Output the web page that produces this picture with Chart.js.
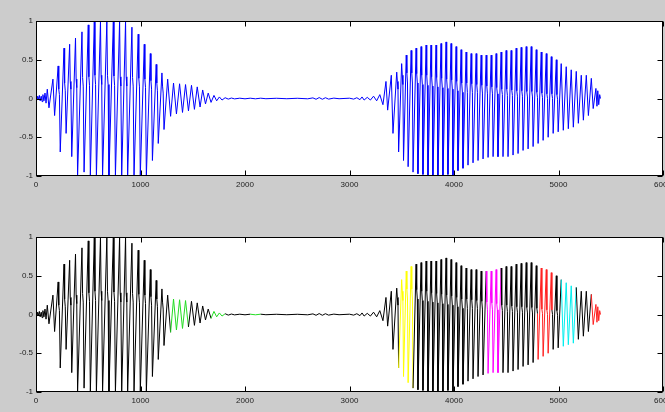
<!DOCTYPE html>
<html>
<head>
<meta charset="utf-8">
<script src="https://cdn.jsdelivr.net/npm/chart.js@4.4.0/dist/chart.umd.min.js"></script>
<style>
  body { margin: 0; background: #cccccc; width: 665px; height: 412px; overflow: hidden; position: relative; }
  canvas { position: absolute; left: 0; }
  #top { top: 0; }
  #bottom { top: 216px; }
</style>
</head>
<body>
<canvas id="top" width="665" height="196"></canvas>
<canvas id="bottom" width="665" height="196"></canvas>
<script>
// waveform: sample index and amplitude of each turning point
var introX = [0, 8, 16, 24, 32, 40, 50, 58, 66, 76, 86, 96];
var introY = [0.01, -0.02, 0.03, -0.01, 0.04, -0.03, 0.03, -0.04, 0.05, -0.03, 0.07, -0.06];

var burst1X = [
  108, 124, 162, 178,
  212, 218, 224, 232, 268, 274, 280, 288, 322, 328, 334, 342, 378, 384, 390, 398,
  440, 446, 452, 460, 500, 506, 512, 520, 558, 564, 570, 578, 617, 623, 629, 637,
  678, 684, 690, 698, 740, 746, 752, 760, 800, 806, 812, 820, 857, 863, 869, 877,
  918, 924, 930, 938, 978, 984, 990, 998, 1036, 1042, 1048, 1056, 1094, 1100, 1106, 1114,
  1150, 1156, 1162, 1170, 1205, 1211, 1217, 1225,
  1260, 1288, 1316, 1344, 1374, 1402, 1431, 1459, 1488, 1516,
  1543, 1570, 1595, 1622, 1648, 1675, 1703, 1729, 1755, 1780
];
var burst1Y = [
  0.12, -0.12, 0.25, -0.22,
  0.42, 0.12, 0.05, -0.69, 0.65, 0.2, 0.1, -0.45, 0.7, 0.22, 0.12, -0.75, 0.78, 0.25, 0.14, -1,
  0.86, 0.27, 0.16, -0.95, 0.95, 0.28, 0.17, -1, 1, 0.3, 0.18, -1, 1, 0.3, 0.18, -1,
  1, 0.3, 0.18, -1, 1, 0.29, 0.17, -1, 1, 0.28, 0.16, -1, 1, 0.28, 0.16, -1,
  0.92, 0.27, 0.16, -1, 0.83, 0.26, 0.15, -1, 0.7, 0.25, 0.14, -1, 0.58, 0.23, 0.12, -0.8,
  0.44, 0.2, 0.1, -0.58, 0.33, 0.16, 0.07, -0.4,
  0.25, -0.23, 0.2, -0.2, 0.19, -0.18, 0.18, -0.16, 0.17, -0.14,
  0.15, -0.11, 0.11, -0.07, 0.07, -0.05, 0.04, -0.03, 0.02, -0.02
];

var quietX = [
  1810, 1840, 1870, 1900, 1950, 2000, 2050, 2100, 2150, 2200, 2300, 2400, 2500, 2600,
  2650, 2680, 2710, 2740, 2770, 2800, 2850, 2900, 3000, 3040, 3070, 3100, 3120, 3140,
  3170, 3200, 3230, 3260, 3290, 3320
];
var quietY = [
  0.01, -0.008, 0.006, -0.005, 0.004, -0.004, 0.004, -0.004, 0.004, -0.003, 0.003, -0.003, 0.003, -0.004,
  0.008, -0.01, 0.012, -0.01, 0.01, -0.008, 0.005, -0.003, 0.004, -0.008, 0.01, -0.015, 0.02, -0.02,
  0.015, -0.02, 0.03, -0.03, 0.05, -0.08
];

var burst2X = [
  3349, 3365, 3400, 3416,
  3452, 3458, 3464, 3470, 3499, 3505, 3511, 3517, 3543, 3549, 3555, 3561, 3590, 3596, 3602, 3608,
  3637, 3643, 3649, 3655, 3685, 3691, 3697, 3703, 3733, 3739, 3745, 3751, 3780, 3786, 3792, 3798,
  3828, 3834, 3840, 3846, 3876, 3882, 3888, 3894, 3924, 3930, 3936, 3942, 3972, 3978, 3984, 3990,
  4020, 4026, 4032, 4038, 4068, 4074, 4080, 4086, 4116, 4122, 4128, 4134, 4164, 4170, 4176, 4182,
  4212, 4218, 4224, 4230, 4260, 4266, 4272, 4278, 4308, 4314, 4320, 4326, 4356, 4362, 4368, 4374,
  4403, 4409, 4415, 4421, 4451, 4457, 4463, 4469, 4499, 4505, 4511, 4517, 4547, 4553, 4559, 4565,
  4595, 4601, 4607, 4613, 4643, 4649, 4655, 4661, 4691, 4697, 4703, 4709, 4739, 4745, 4751, 4757,
  4787, 4793, 4799, 4805, 4835, 4841, 4847, 4853, 4883, 4889, 4895, 4901, 4931, 4937, 4943, 4949,
  4979, 4985, 4991, 4997,
  5026, 5046, 5074, 5094, 5122, 5142, 5170, 5190, 5218, 5238, 5266, 5286, 5314, 5332, 5358, 5368,
  5376, 5385, 5394, 5402
];
var burst2Y = [
  0.22, -0.15, 0.3, -0.45,
  0.34, 0.22, 0.12, -0.69, 0.45, 0.3, 0.18, -0.8, 0.56, 0.33, 0.2, -0.88, 0.62, 0.33, 0.2, -0.95,
  0.65, 0.32, 0.2, -0.97, 0.67, 0.3, 0.18, -0.98, 0.69, 0.3, 0.17, -1, 0.69, 0.28, 0.16, -1,
  0.69, 0.27, 0.15, -0.99, 0.71, 0.26, 0.14, -1, 0.73, 0.25, 0.13, -0.98, 0.71, 0.24, 0.12, -1,
  0.67, 0.22, 0.1, -0.93, 0.63, 0.2, 0.08, -0.9, 0.6, 0.2, 0.08, -0.86, 0.58, 0.19, 0.08, -0.83,
  0.58, 0.18, 0.08, -0.8, 0.56, 0.17, 0.07, -0.78, 0.56, 0.16, 0.06, -0.76, 0.56, 0.15, 0.06, -0.75,
  0.58, 0.14, 0.06, -0.75, 0.6, 0.12, 0.05, -0.75, 0.62, 0.12, 0.04, -0.75, 0.62, 0.11, 0.04, -0.73,
  0.65, 0.1, 0.03, -0.71, 0.66, 0.1, 0.03, -0.67, 0.67, 0.09, 0.02, -0.65, 0.67, 0.09, 0.02, -0.62,
  0.63, 0.08, 0.01, -0.58, 0.6, 0.07, 0.01, -0.54, 0.58, 0.06, 0, -0.5, 0.54, 0.06, 0, -0.45,
  0.5, 0.05, -0.01, -0.43,
  0.45, -0.41, 0.41, -0.39, 0.37, -0.37, 0.35, -0.32, 0.3, -0.28, 0.3, -0.22, 0.26, -0.13, 0.13, -0.1,
  0.1, -0.08, 0.05, 0
];

// marked stretches in the lower plot (sample ranges)
var regionStart = [1300, 1670, 2040, 3483, 4308, 4800, 5026, 5313];
var regionEnd   = [1450, 1800, 2170, 3620, 4452, 4935, 5172, 5410];
var regionColor = ['#22dd22', '#22dd22', '#22dd22', '#ffff00', '#ff00ff', '#ff2020', '#00eeee', '#ff2020'];

var xs = introX.concat(burst1X, quietX, burst2X);
var ys = introY.concat(burst1Y, quietY, burst2Y);
var points = [];
for (var i = 0; i < Math.min(xs.length, ys.length); i++) {
  points.push({x: xs[i], y: ys[i]});
}

function colorAt(x, base) {
  for (var k = 0; k < regionStart.length; k++) {
    if (x >= regionStart[k] && x <= regionEnd[k]) return regionColor[k];
  }
  return base;
}

// white axes box, frame and inward ticks on all four sides like matlab
var boxPlugin = {
  id: 'box',
  beforeDraw: function(chart) {
    var a = chart.chartArea, c = chart.ctx;
    c.save();
    c.fillStyle = '#ffffff';
    c.fillRect(a.left, a.top, a.right - a.left, a.bottom - a.top);
    c.restore();
  },
  afterDraw: function(chart) {
    var a = chart.chartArea, c = chart.ctx;
    var L = Math.round(a.left) + 0.5, R = Math.round(a.right) - 0.5;
    var T = Math.round(a.top) + 0.5, B = Math.round(a.bottom) - 0.5;
    c.save();
    c.strokeStyle = '#000000';
    c.lineWidth = 1;
    c.strokeRect(L, T, R - L, B - T);
    c.beginPath();
    chart.scales.x.ticks.forEach(function(t) {
      var p = Math.round(chart.scales.x.getPixelForValue(t.value)) + 0.5;
      c.moveTo(p, B); c.lineTo(p, B - 5);
      c.moveTo(p, T); c.lineTo(p, T + 5);
    });
    chart.scales.y.ticks.forEach(function(t) {
      var p = Math.round(chart.scales.y.getPixelForValue(t.value)) + 0.5;
      c.moveTo(L, p); c.lineTo(L + 5, p);
      c.moveTo(R, p); c.lineTo(R - 5, p);
    });
    c.stroke();
    c.restore();
  }
};

function makeChart(id, color, marked) {
  var ds = {
    data: points,
    borderColor: color,
    borderWidth: 1,
    pointRadius: 0,
    tension: 0,
    fill: false
  };
  if (marked) {
    ds.segment = {
      borderColor: function(ctx) {
        var mid = (points[ctx.p0DataIndex].x + points[ctx.p1DataIndex].x) / 2;
        return colorAt(mid, color);
      }
    };
  }
  return new Chart(document.getElementById(id), {
    type: 'line',
    data: { datasets: [ds] },
    plugins: [boxPlugin],
    options: {
      responsive: false,
      animation: false,
      events: [],
      parsing: false,
      layout: { padding: { top: 21, left: 0, right: 2, bottom: 0 } },
      plugins: { legend: { display: false }, tooltip: { enabled: false } },
      scales: {
        x: {
          type: 'linear',
          min: 0, max: 6000,
          grid: { display: false, drawTicks: false },
          border: { display: false },
          ticks: {
            stepSize: 1000, autoSkip: false, maxRotation: 0, padding: 4,
            color: '#222', font: { family: 'Liberation Sans, Arial', size: 8 },
            callback: function(v) { return String(v); }
          },
          afterFit: function(s) { s.height = 20; s.paddingLeft = 0; s.paddingRight = 0; }
        },
        y: {
          min: -1, max: 1,
          grid: { display: false, drawTicks: false },
          border: { display: false },
          ticks: {
            stepSize: 0.5, padding: 3,
            color: '#222', font: { family: 'Liberation Sans, Arial', size: 8 },
            callback: function(v) { return String(v); }
          },
          afterFit: function(s) { s.width = 36; s.paddingTop = 0; s.paddingBottom = 0; }
        }
      }
    }
  });
}

makeChart('top', '#0000ff', false);
makeChart('bottom', '#000000', true);
</script>
</body>
</html>
